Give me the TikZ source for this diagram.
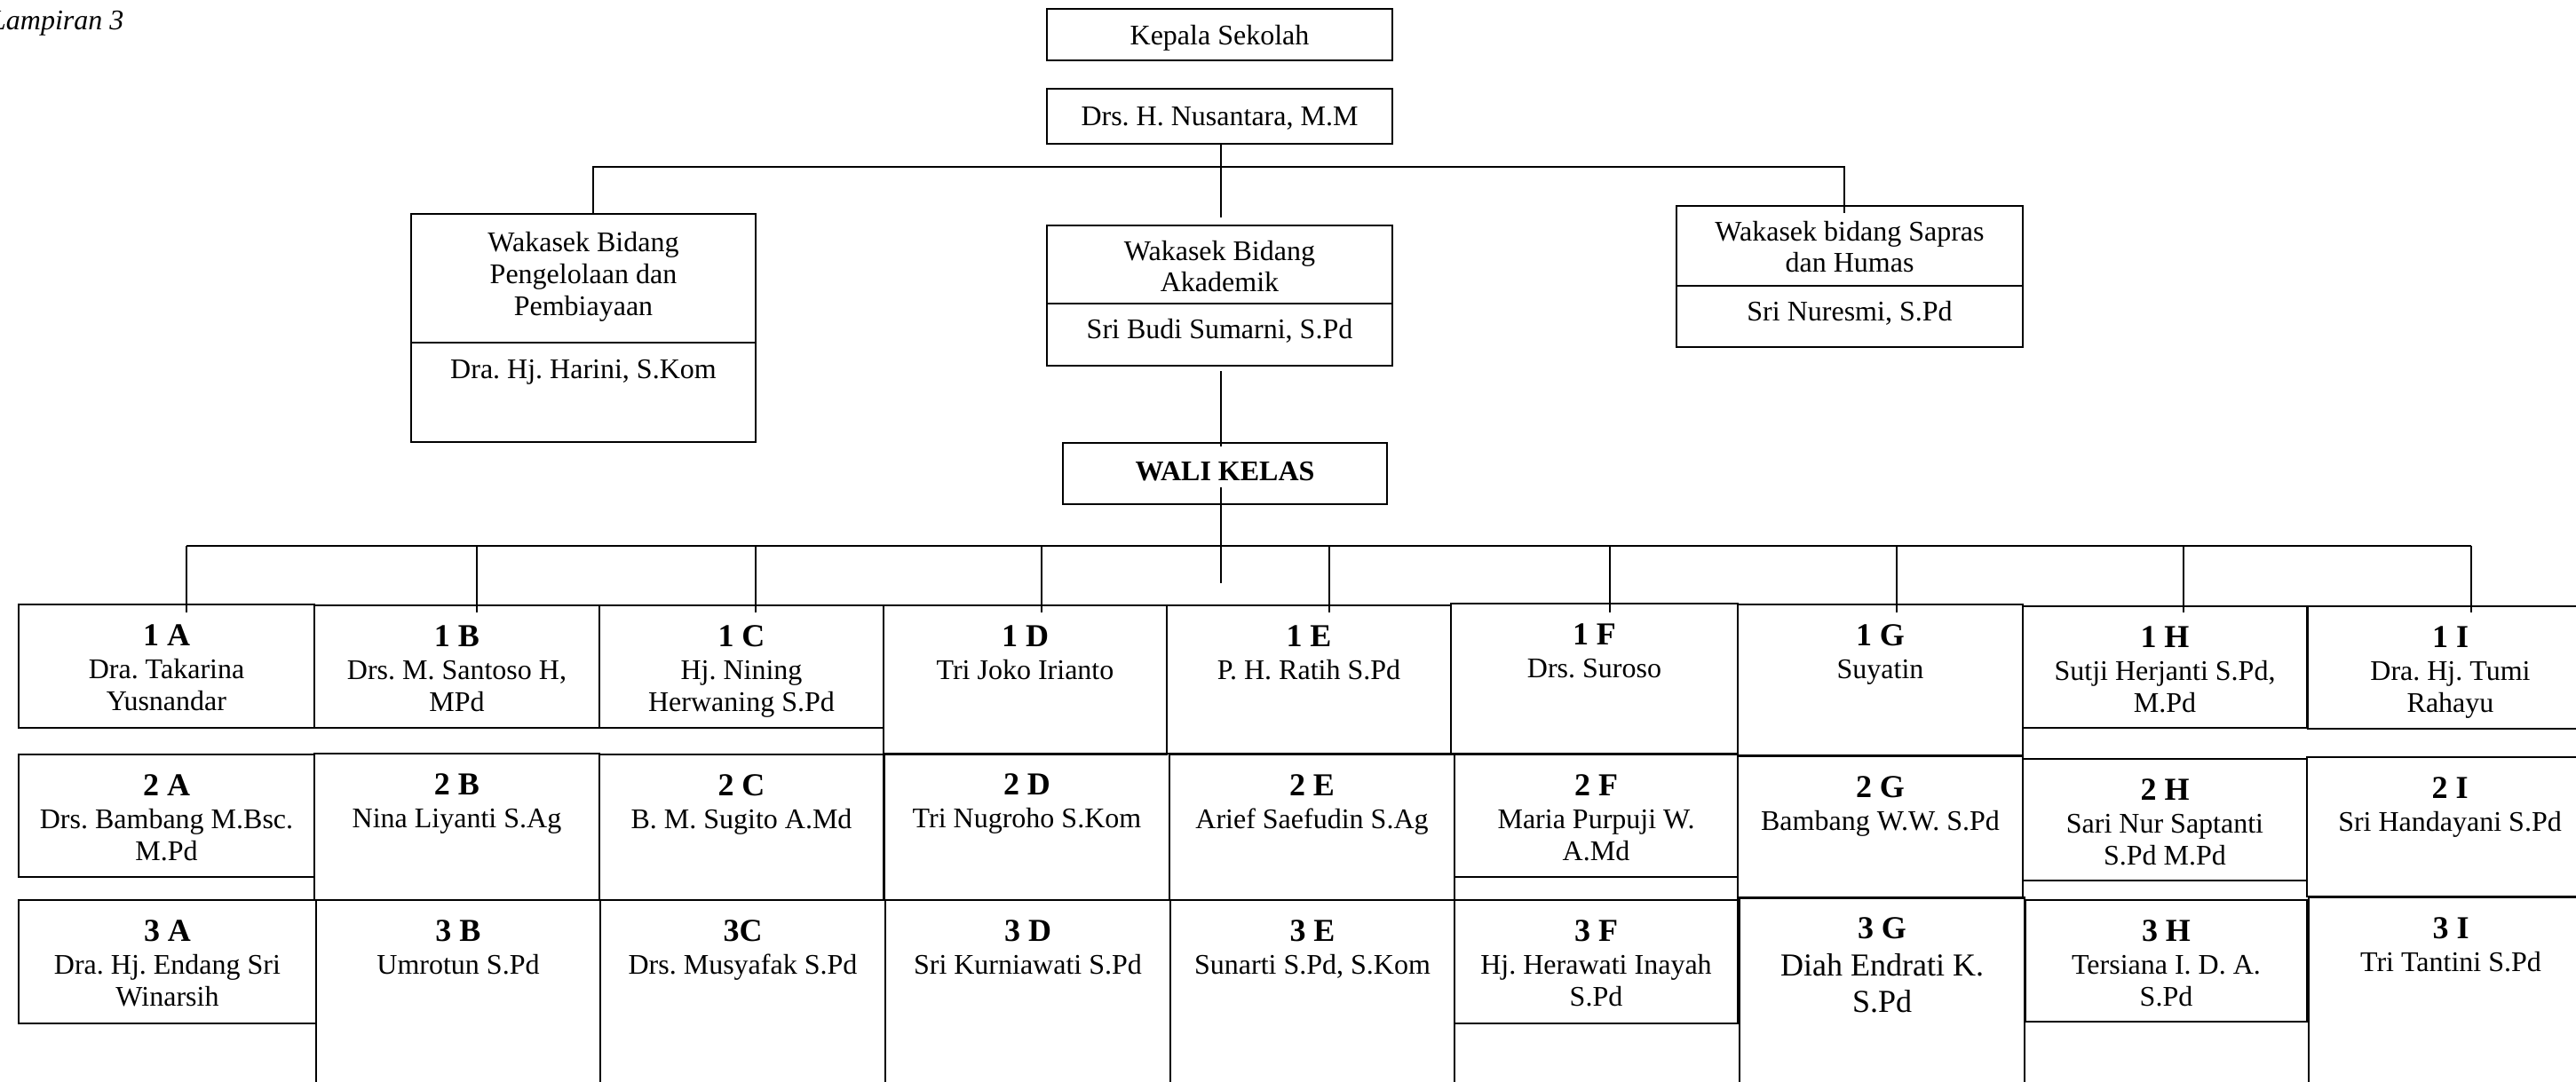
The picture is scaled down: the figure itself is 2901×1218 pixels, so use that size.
\documentclass[tikz,border=0pt]{standalone}
\usepackage{fontspec}
\setmainfont{Liberation Serif}
\usetikzlibrary{calc}
\frenchspacing
\newcommand\hs{\rule{0pt}{26pt}}
\newcommand\lblfont{\fontsize{36}{36}\selectfont\bfseries}
% #1 extra text style, #2 name, #3 xl, #4 xr, #5 yt, #6 yb, #7 label, #8 text
\newcommand\kls[8][]{%
  \node[cell, minimum width={#4-#3}, minimum height={#6-#5}] (#2) at (#3,#5) {};
  \node[txt,#1] (#2t) at ($(#2.north)+(0,46)$) {\hs{\lblfont #7}\\[1.5pt]#8};
}
\begin{document}
\begin{tikzpicture}[x=1pt,y=-1pt,
  cell/.style={draw, line width=2pt, inner sep=0pt, outer sep=0pt, anchor=north west},
  txt/.style={anchor=north, inner sep=0pt, outer sep=0pt, yshift=26pt, align=center, font=\fontsize{32}{36}\selectfont\frenchspacing},
  conn/.style={line width=2pt}]
\useasboundingbox (0,0) rectangle (2901,1218);
\clip (0,0) rectangle (2901,1218);
\fill[white] (0,0) rectangle (2901,1218);

\node[anchor=base west, inner sep=0pt, font=\fontsize{32}{36}\selectfont\itshape] (lamp) at (-11,33) {Lampiran 3};

% ---------- top part ----------
\node[cell, minimum width=389, minimum height=58] (ks) at (1179,10) {};
\node[txt] (kst) at (1373.5,50) {\hs Kepala Sekolah};
\node[cell, minimum width=389, minimum height=62] (nus) at (1179,100) {};
\node[txt] (nust) at (1373.5,141) {\hs Drs. H. Nusantara, M.M};

\node[cell, minimum width=388, minimum height=145] (wpa) at (463,241) {};
\node[cell, minimum width=388, minimum height=112] (wpb) at (463,386) {};
\node[txt] (wpat) at (657,283.3) {\hs Wakasek Bidang\\Pengelolaan dan\\Pembiayaan};
\node[txt] (wpbt) at (657,426.7) {\hs Dra. Hj. Harini, S.Kom};

\node[cell, minimum width=389, minimum height=88] (waa) at (1179,254) {};
\node[cell, minimum width=389, minimum height=70] (wab) at (1179,342) {};
\node[txt, font=\fontsize{32}{35}\selectfont] (waat) at (1373.5,293.5) {\hs Wakasek Bidang\\Akademik};
\node[txt] (wabt) at (1373.5,381.4) {\hs Sri Budi Sumarni, S.Pd};

\node[cell, minimum width=390, minimum height=90] (wsa) at (1888,232) {};
\node[cell, minimum width=390, minimum height=69] (wsb) at (1888,322) {};
\node[txt, font=\fontsize{32}{35.5}\selectfont] (wsat) at (2083,271.3) {\hs Wakasek bidang Sapras\\dan Humas};
\node[txt] (wsbt) at (2083,361.5) {\hs Sri Nuresmi, S.Pd};

\node[cell, minimum width=365, minimum height=69] (wali) at (1197,499) {};
\node[txt, font=\fontsize{32}{36}\selectfont\bfseries] (walit) at (1379.5,541.7) {\hs WALI KELAS};

% ---------- row 1 ----------
\kls{k1A}{21}{354}{681}{820}{1 A}{Dra. Takarina\\Yusnandar}
\kls{k1B}{354}{675}{682}{820}{1 B}{Drs. M. Santoso H,\\MPd}
\kls{k1C}{675}{995}{682}{820}{1 C}{Hj. Nining\\Herwaning S.Pd}
\kls{k1D}{995}{1314}{682}{850}{1 D}{Tri Joko Irianto}
\kls{k1E}{1314}{1634}{682}{849}{1 E}{P. H. Ratih S.Pd}
\kls{k1F}{1634}{1957}{680}{849}{1 F}{Drs. Suroso}
\kls{k1G}{1957}{2278}{681}{851}{1 G}{Suyatin}
\kls{k1H}{2278}{2598}{683}{820}{1 H}{Sutji Herjanti S.Pd,\\M.Pd}
\kls{k1I}{2599}{2920}{683}{821}{1 I}{Dra. Hj. Tumi\\Rahayu}

% ---------- row 2 ----------
\kls{k2A}{21}{354}{850}{988}{2 A}{Drs. Bambang M.Bsc.\\M.Pd}
\kls{k2B}{354}{675}{849}{1014}{2 B}{Nina Liyanti S.Ag}
\kls{k2C}{675}{995}{850}{1014}{2 C}{B. M. Sugito A.Md}
\kls{k2D}{996}{1317}{849}{1014}{2 D}{Tri Nugroho S.Kom}
\kls{k2E}{1317}{1638}{850}{1014}{2 E}{Arief Saefudin S.Ag}
\kls{k2F}{1638}{1957}{850}{988}{2 F}{Maria Purpuji W.\\A.Md}
\kls{k2G}{1957}{2278}{852}{1012}{2 G}{Bambang W.W. S.Pd}
\kls{k2H}{2278}{2598}{855}{992}{2 H}{Sari Nur Saptanti\\S.Pd M.Pd}
\kls{k2I}{2598}{2920}{853}{1010}{2 I}{Sri Handayani S.Pd}

% ---------- row 3 ----------
\kls{k3A}{21}{356}{1014}{1153}{3 A}{Dra. Hj. Endang Sri\\Winarsih}
\kls{k3B}{356}{676}{1014}{1240}{3 B}{Umrotun S.Pd}
\kls{k3C}{676}{997}{1014}{1240}{3C}{Drs. Musyafak S.Pd}
\kls{k3D}{997}{1318}{1014}{1240}{3 D}{Sri Kurniawati S.Pd}
\kls{k3E}{1318}{1638}{1014}{1240}{3 E}{Sunarti S.Pd, S.Kom}
\kls{k3F}{1638}{1957}{1014}{1153}{3 F}{Hj. Herawati Inayah\\S.Pd}
\kls[font=\fontsize{36}{41}\selectfont\frenchspacing]{k3G}{1959}{2280}{1011}{1240}{3 G}{Diah Endrati K.\\S.Pd}
\kls{k3H}{2281}{2598}{1014}{1151}{3 H}{Tersiana I. D. A.\\S.Pd}
\kls{k3I}{2600}{2920}{1011}{1240}{3 I}{Tri Tantini S.Pd}

% ---------- connectors ----------
\coordinate (j1) at (1375,188);
\coordinate (j1b) at (1375,245);
\coordinate (hL) at (668,188);
\coordinate (hR) at (2077,188);
\coordinate (wsin) at (2077,240);
\draw[conn] (nus.south -| j1) -- (j1b);
\draw[conn] (wpa.north -| hL) -- (hL) -- (hR) -- (wsin);

\coordinate (w1) at (1375,418);
\coordinate (w2) at (1375,503);
\coordinate (w3) at (1375,549);
\coordinate (w4) at (1375,657);
\draw[conn] (w1) -- (w2);
\draw[conn] (w3) -- (w4);

\coordinate (bL) at (210,615);
\coordinate (bR) at (2783,615);
\draw[conn] (bL) -- (bR);
\foreach \xx in {210, 537, 851, 1173, 1497, 1813, 2136, 2459, 2783}{
  \draw[conn] (\xx,615) -- (\xx,690);
}
\end{tikzpicture}
\end{document}
